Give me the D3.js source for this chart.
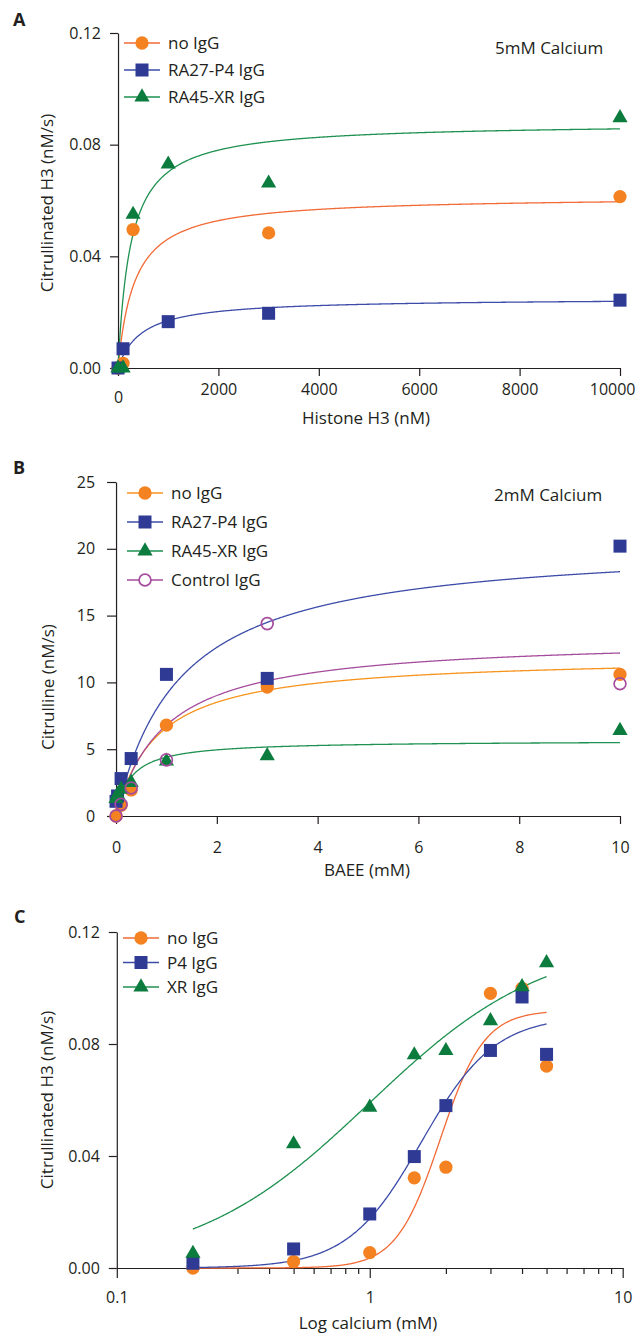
<!DOCTYPE html>
<html lang="en">
<head>
<meta charset="UTF-8">
<title>PAD4 activity</title>
<script src="https://cdnjs.cloudflare.com/ajax/libs/d3/7.8.5/d3.min.js"></script>
<style>
  body { margin: 0; background: #fff; }
  svg text { font-family: "Open Sans", sans-serif; fill: #231f20; }
  .axis path, .axis line { stroke: #231f20; stroke-width: 1.2; }
  .axis text { font-size: 16px; font-family: "Open Sans", sans-serif; fill: #231f20; }
  .title { font-size: 17px; }
  .panel { font-size: 18px; font-weight: bold; }
</style>
</head>
<body>
<svg id="chart" width="636" height="1336"></svg>
<script>
// ---------- A: histone H3 titration (5 mM calcium)
const histoneTicks = [0, 2000, 4000, 6000, 8000, 10000];
const h3Ticks = [0, 0.04, 0.08, 0.12];
const aNoIgG = [[0, 0], [100, 0.0017], [300, 0.0496], [3000, 0.0484], [10000, 0.0614]];
const aP4 = [[0, 0], [100, 0.0069], [1000, 0.0166], [3000, 0.0196], [10000, 0.0243]];
const aXR = [[0, 0], [100, 0], [300, 0.055], [1000, 0.073], [3000, 0.0662], [10000, 0.0896]];
// Michaelis-Menten fits as drawn: [Vmax, Km]
const aFitNoIgG = [0.0615, 330];
const aFitP4 = [0.025, 472];
const aFitXR = [0.0878, 250];
const aNames = ["no IgG", "RA27-P4 IgG", "RA45-XR IgG"];

// ---------- B: BAEE titration (2 mM calcium)
const baeeTicks = [0, 2, 4, 6, 8, 10];
const citTicks = [0, 5, 10, 15, 20, 25];
const bNoIgG = [[0, 0], [0.1, 0.8], [0.3, 1.95], [1, 6.8], [3, 9.65], [10, 10.6]];
const bP4 = [[0, 1.1], [0.03, 1.5], [0.1, 2.8], [0.3, 4.3], [1, 10.6], [3, 10.3], [10, 20.2]];
const bXR = [[0, 1.3], [0.03, 1.6], [0.1, 2.0], [0.3, 2.5], [1, 4.1], [3, 4.5], [10, 6.4]];
const bCtrl = [[0, 0], [0.1, 0.87], [0.3, 2.1], [1, 4.2], [3, 14.4], [10, 9.9]];
const bFitNoIgG = [11.97, 0.813];
const bFitP4 = [20.6, 1.265];
const bFitXR = [5.65, 0.283];
const bFitCtrl = [13.38, 0.967];
const bNames = ["no IgG", "RA27-P4 IgG", "RA45-XR IgG", "Control IgG"];

// ---------- C: calcium dependence
const calcium = [0.2, 0.5, 1, 1.5, 2, 3, 4, 5];
const calciumLabels = [0.1, 1, 10];
const cNoIgG = [0.0, 0.0023, 0.0055, 0.0322, 0.036, 0.0981, 0.0999, 0.0721];
const cP4 = [0.0017, 0.0068, 0.0193, 0.0398, 0.058, 0.0777, 0.0968, 0.0763];
const cXR = [0.0052, 0.0443, 0.0574, 0.0761, 0.0776, 0.0883, 0.1004, 0.1090];
// Hill fits as drawn: [top, EC50, n]
const cFitNoIgG = [0.092, 1.9, 5];
const cFitP4 = [0.09, 1.6, 3];
const cFitXR = [0.118, 1.0, 1.25];
const cNames = ["no IgG", "P4 IgG", "XR IgG"];

const orange = "#f58220", orangeLine = "#f26a36", orangeLineB = "#f7941d";
const blue = "#2e3a94", blueLine = "#3c4ca8";
const green = "#0c7c3e", greenLine = "#1f9150";
const purple = "#a54c9d";

const svg = d3.select("#chart");

const shapes = {
  circle: d3.symbol().type(d3.symbolCircle).size(138),
  square: d3.symbol().type(d3.symbolSquare).size(169),
  triangle: d3.symbol().type(d3.symbolTriangle).size(100),
  ring: d3.symbol().type(d3.symbolCircle).size(110)
};

function points(data, x, y, shape, color) {
  svg.append("g").selectAll("path").data(data).join("path")
    .attr("d", shapes[shape])
    .attr("transform", d => `translate(${x(d[0])},${y(d[1])})`)
    .attr("fill", shape === "ring" ? "none" : color)
    .attr("stroke", shape === "ring" ? color : "none")
    .attr("stroke-width", 1.7);
}

function curve(xs, f, x, y, color) {
  svg.append("path").datum(xs)
    .attr("d", d3.line().x(d => x(d)).y(d => y(f(d))))
    .attr("fill", "none").attr("stroke", color).attr("stroke-width", 1.3);
}

const mm = p => v => p[0] * v / (p[1] + v);
const hill = p => v => p[0] / (1 + Math.pow(p[1] / v, p[2]));

function legend(names, kinds, colors, lines, x0, y0, dy) {
  names.forEach((name, i) => {
    const yy = y0 + i * dy;
    svg.append("line").attr("x1", x0 - 18).attr("x2", x0 + 18)
      .attr("y1", yy).attr("y2", yy)
      .attr("stroke", lines[i]).attr("stroke-width", 1.3);
    svg.append("path").attr("d", shapes[kinds[i]])
      .attr("transform", `translate(${x0},${yy})`)
      .attr("fill", kinds[i] === "ring" ? "#fff" : colors[i])
      .attr("stroke", kinds[i] === "ring" ? colors[i] : "none")
      .attr("stroke-width", 1.7);
    svg.append("text").attr("class", "title").attr("x", x0 + 26).attr("y", yy)
      .attr("dy", "0.36em").text(name);
  });
}

function yTitle(text, cx, cy) {
  svg.append("text").attr("class", "title")
    .attr("transform", `translate(${cx},${cy}) rotate(-90)`)
    .attr("text-anchor", "middle").attr("dy", "0.35em").text(text);
}

function xTitle(text, cx, cy) {
  svg.append("text").attr("class", "title").attr("x", cx).attr("y", cy)
    .attr("text-anchor", "middle").attr("dy", "0.35em").text(text);
}

// ===== panel A
const xA = d3.scaleLinear().domain([-120, 10000]).range([112, 620]);
const yA = d3.scaleLinear().domain([0, 0.12]).range([368, 33]);

const axA = svg.append("g").attr("class", "axis").attr("transform", `translate(0,${yA(0)})`)
  .call(d3.axisBottom(xA).tickValues(histoneTicks).tickFormat(d3.format("d"))
    .tickSize(8).tickSizeOuter(0).tickPadding(8));
axA.selectAll(".tick text").filter(d => d === 0).attr("y", 24);
// last label sits against the page edge, as in the original
axA.selectAll(".tick text").filter(d => d === 10000)
  .attr("text-anchor", "end").attr("x", 635 - xA(10000));
svg.append("g").attr("class", "axis").attr("transform", `translate(${xA(0)},0)`)
  .call(d3.axisLeft(yA).tickValues(h3Ticks).tickFormat(d3.format(".2f")).tickSize(8).tickSizeOuter(0).tickPadding(9));

const xsA = d3.range(0, 801).map(i => 10000 * i / 800);
curve(xsA, mm(aFitNoIgG), xA, yA, orangeLine);
curve(xsA, mm(aFitP4), xA, yA, blueLine);
curve(xsA, mm(aFitXR), xA, yA, greenLine);
points(aNoIgG, xA, yA, "circle", orange);
points(aP4, xA, yA, "square", blue);
points(aXR, xA, yA, "triangle", green);

legend(aNames, ["circle", "square", "triangle"], [orange, blue, green],
  [orangeLine, blueLine, greenLine], 142, 43, 27);
svg.append("text").attr("class", "title").attr("x", 495).attr("y", 48).attr("dy", "0.36em").text("5mM Calcium");
yTitle("Citrullinated H3 (nM/s)", 47, 203);
xTitle("Histone H3 (nM)", 366, 418);
svg.append("text").attr("class", "panel").attr("x", 13).attr("y", 26).text("A");

// ===== panel B
const xB = d3.scaleLinear().domain([-0.12, 10]).range([110, 620]);
const yB = d3.scaleLinear().domain([0, 25]).range([816, 482]);

svg.append("g").attr("class", "axis").attr("transform", `translate(0,${yB(0)})`)
  .call(d3.axisBottom(xB).tickValues(baeeTicks).tickSize(8).tickSizeOuter(0).tickPadding(18));
svg.append("g").attr("class", "axis").attr("transform", `translate(${xB(0)},0)`)
  .call(d3.axisLeft(yB).tickValues(citTicks).tickSize(9).tickSizeOuter(0).tickPadding(12));

const xsB = d3.range(0, 801).map(i => 10 * i / 800);
curve(xsB, mm(bFitNoIgG), xB, yB, orangeLineB);
curve(xsB, mm(bFitP4), xB, yB, blueLine);
curve(xsB, mm(bFitXR), xB, yB, greenLine);
curve(xsB, mm(bFitCtrl), xB, yB, purple);
points(bNoIgG, xB, yB, "circle", orange);
points(bP4, xB, yB, "square", blue);
points(bXR, xB, yB, "triangle", green);
points(bCtrl, xB, yB, "ring", purple);

legend(bNames, ["circle", "square", "triangle", "ring"], [orange, blue, green, purple],
  [orangeLineB, blueLine, greenLine, purple], 145, 493, 29);
svg.append("text").attr("class", "title").attr("x", 494).attr("y", 495).attr("dy", "0.36em").text("2mM Calcium");
yTitle("Citrulline (nM/s)", 48, 687);
xTitle("BAEE (mM)", 367, 870);
svg.append("text").attr("class", "panel").attr("x", 13).attr("y", 474).text("B");

// ===== panel C
const xC = d3.scaleLog().domain([0.1, 10]).range([116.8, 622.7]);
const yC = d3.scaleLinear().domain([0, 0.12]).range([1268, 932]);

const axC = svg.append("g").attr("class", "axis").attr("transform", `translate(0,${yC(0)})`)
  .call(d3.axisBottom(xC).tickValues(xC.ticks()).tickSize(6).tickSizeOuter(0).tickPadding(18)
    .tickFormat(d => calciumLabels.includes(d) ? d3.format("~g")(d) : ""));
axC.selectAll(".tick").filter(d => calciumLabels.includes(d)).select("line").attr("y2", 10);
svg.append("g").attr("class", "axis").attr("transform", `translate(${xC(0.1)},0)`)
  .call(d3.axisLeft(yC).tickValues(h3Ticks).tickFormat(d3.format(".2f")).tickSize(8).tickSizeOuter(0).tickPadding(9));

const xsC = d3.range(0, 401).map(i => 0.2 * Math.pow(25, i / 400));
curve(xsC, hill(cFitNoIgG), xC, yC, orangeLine);
curve(xsC, hill(cFitP4), xC, yC, blueLine);
curve(xsC, hill(cFitXR), xC, yC, greenLine);
points(calcium.map((c, i) => [c, cNoIgG[i]]), xC, yC, "circle", orange);
points(calcium.map((c, i) => [c, cP4[i]]), xC, yC, "square", blue);
points(calcium.map((c, i) => [c, cXR[i]]), xC, yC, "triangle", green);

legend(cNames, ["circle", "square", "triangle"], [orange, blue, green],
  [orangeLine, blueLine, greenLine], 141, 938, 24.5);
yTitle("Citrullinated H3 (nM/s)", 47, 1100);
xTitle("Log calcium (mM)", 368, 1323);
svg.append("text").attr("class", "panel").attr("x", 14).attr("y", 923).text("C");
</script>
</body>
</html>
